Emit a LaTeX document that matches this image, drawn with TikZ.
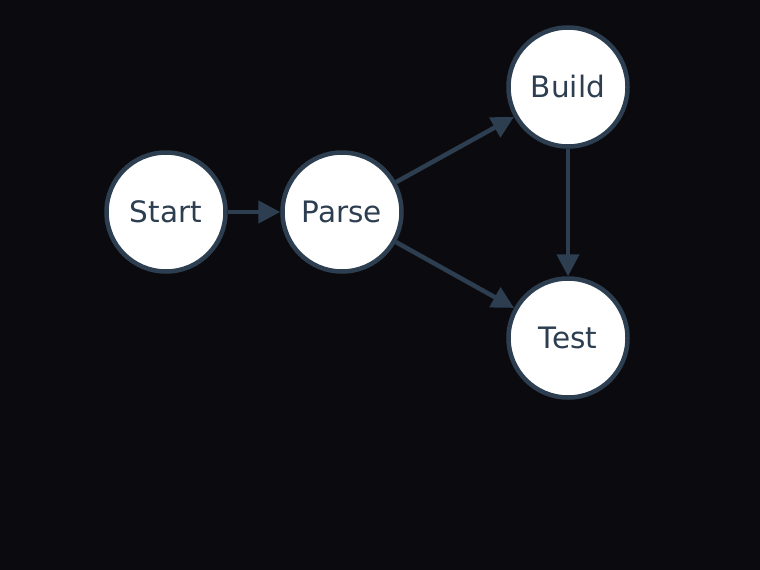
\documentclass[tikz,border=0pt]{standalone}
\usepackage{fontspec}
\setmainfont{DejaVu Sans}
\usetikzlibrary{arrows.meta}
\definecolor{bgdark}{HTML}{0B0B0F}
\definecolor{slate}{HTML}{2C3E50}

\begin{document}
\begin{tikzpicture}[x=1pt,y=-1pt,
    stage/.style={circle, draw=slate, line width=4.5pt, fill=white,
                  minimum size=119pt, inner sep=0pt, text=slate,
                  font=\fontsize{29.5}{34}\selectfont},
    flow/.style={draw=slate, line width=4.5pt,
                 -{Triangle[length=22pt,width=22pt]}}]
\fill[bgdark] (0,0) rectangle (760,570);
\useasboundingbox (0,0) rectangle (760,570);
\node[stage] (start) at (166,212) {Start};
\node[stage] (parse) at (342,212) {Parse};
\node[stage] (build) at (568,87) {Build};
\node[stage] (test) at (568,338) {Test};
\draw[flow] (start) -- (parse);
\draw[flow] (parse) -- (build);
\draw[flow] (parse) -- (test);
\draw[flow] (build) -- (test);
\end{tikzpicture}
\end{document}
